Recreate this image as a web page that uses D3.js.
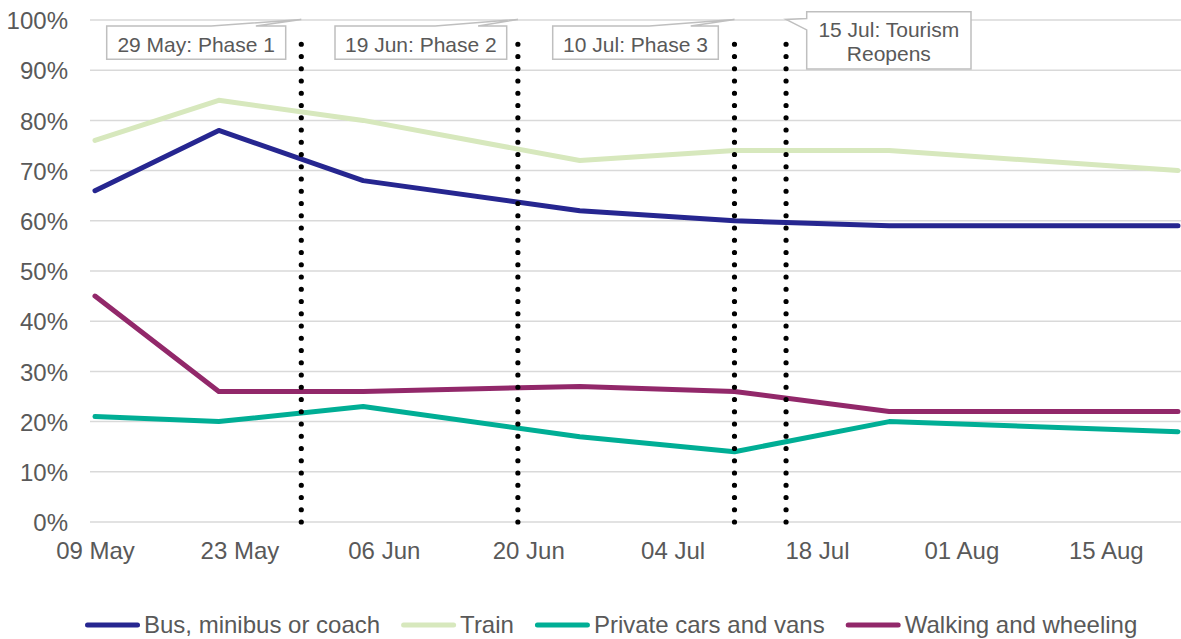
<!DOCTYPE html>
<html>
<head>
<meta charset="utf-8">
<script src="https://cdn.jsdelivr.net/npm/d3@7"></script>
<style>
  html, body { margin: 0; padding: 0; background: #ffffff; }
  svg { display: block; }
  text { font-family: "Liberation Sans", Arial, sans-serif; fill: #595959; }
</style>
</head>
<body>
<svg id="chart" width="1181" height="639"></svg>
<script>
// Survey dates (2020) and share of respondents by mode
const surveyDates = ["2020-05-09", "2020-05-21", "2020-06-04", "2020-06-25", "2020-07-10", "2020-07-25", "2020-08-22"];
const busValues     = [0.66, 0.78, 0.68, 0.62, 0.60, 0.59, 0.59];
const trainValues   = [0.76, 0.84, 0.80, 0.72, 0.74, 0.74, 0.70];
const carValues     = [0.21, 0.20, 0.23, 0.17, 0.14, 0.20, 0.18];
const walkingValues = [0.45, 0.26, 0.26, 0.27, 0.26, 0.22, 0.22];

const seriesNames  = ["Bus, minibus or coach", "Train", "Private cars and vans", "Walking and wheeling"];
const seriesColors = ["#262690", "#d7e8bd", "#00ae95", "#92286a"];

// Axis ticks
const xTickDates = ["2020-05-09", "2020-05-23", "2020-06-06", "2020-06-20", "2020-07-04", "2020-07-18", "2020-08-01", "2020-08-15"];
const yTickValues = [0, 0.1, 0.2, 0.3, 0.4, 0.5, 0.6, 0.7, 0.8, 0.9, 1.0];

// Easing of lockdown milestones
const eventDates  = ["2020-05-29", "2020-06-19", "2020-07-10", "2020-07-15"];
const eventLabels = [["29 May: Phase 1"], ["19 Jun: Phase 2"], ["10 Jul: Phase 3"], ["15 Jul: Tourism", "Reopens"]];

const parse = d3.utcParse("%Y-%m-%d");
const fmtDate = d3.utcFormat("%d %b");
const fmtPct = d3.format(".0%");

const svg = d3.select("#chart");

const x = d3.scaleUtc()
  .domain([parse(surveyDates[0]), parse(surveyDates[surveyDates.length - 1])])
  .range([95, 1178]);
const y = d3.scaleLinear().domain([0, 1]).range([522, 20]);

const plotLeft = 90, plotRight = 1181;
const axisFont = "24px";

// Horizontal gridlines
svg.append("g")
  .selectAll("line")
  .data(yTickValues)
  .join("line")
  .attr("x1", plotLeft).attr("x2", plotRight)
  .attr("y1", d => y(d)).attr("y2", d => y(d))
  .attr("stroke", "#d9d9d9")
  .attr("stroke-width", 1.5);

// Y axis labels
const yAxis = d3.axisLeft(y).tickValues(yTickValues).tickFormat(fmtPct).tickSize(0).tickPadding(0);
svg.append("g")
  .attr("transform", "translate(68,0)")
  .call(yAxis)
  .call(g => g.select(".domain").remove())
  .call(g => g.selectAll("text")
    .attr("x", 0).attr("dy", "0.36em")
    .style("font-family", '"Liberation Sans", Arial, sans-serif')
    .style("font-size", axisFont).style("fill", "#595959"));

// X axis labels
const xAxis = d3.axisBottom(x).tickValues(xTickDates.map(parse)).tickFormat(fmtDate).tickSize(0).tickPadding(0);
svg.append("g")
  .attr("transform", "translate(0,522)")
  .call(xAxis)
  .call(g => g.select(".domain").remove())
  .call(g => g.selectAll("text")
    .attr("y", 37).attr("dy", 0)
    .style("font-family", '"Liberation Sans", Arial, sans-serif')
    .style("font-size", axisFont).style("fill", "#595959"));

// Series lines
const seriesValues = [busValues, trainValues, carValues, walkingValues];
const series = seriesValues.map((vals, i) => ({
  name: seriesNames[i],
  color: seriesColors[i],
  points: vals.map((v, j) => ({ date: parse(surveyDates[j]), value: v }))
}));

const line = d3.line().x(d => x(d.date)).y(d => y(d.value));

svg.append("g")
  .selectAll("path")
  .data(series)
  .join("path")
  .attr("d", d => line(d.points))
  .attr("fill", "none")
  .attr("stroke", d => d.color)
  .attr("stroke-width", 5)
  .attr("stroke-linejoin", "round")
  .attr("stroke-linecap", "round");

// Dotted milestone markers
const markerTop = 0.976;
svg.append("g")
  .selectAll("line")
  .data(eventDates)
  .join("line")
  .attr("x1", d => x(parse(d))).attr("x2", d => x(parse(d)))
  .attr("y1", y(0)).attr("y2", y(markerTop))
  .attr("stroke", "#000000")
  .attr("stroke-width", 5.2)
  .attr("stroke-linecap", "round")
  .attr("stroke-dasharray", "0 12.25");

// Callout boxes
const calloutBoxes = [
  { left: 106.7, top: 26, right: 285.7, bottom: 59.3, side: "top" },
  { left: 335, top: 26, right: 506.7, bottom: 59.3, side: "top" },
  { left: 552.7, top: 26, right: 718.3, bottom: 59.3, side: "top" },
  { left: 806.7, top: 11.7, right: 971, bottom: 69, side: "left" }
];

function calloutPath(b, tipX, tipY) {
  const w = b.right - b.left, h = b.bottom - b.top;
  if (b.side === "top") {
    const a = b.left + w * 7 / 12, c = b.left + w * 10 / 12;
    return `M${b.left},${b.top}L${a},${b.top}L${tipX},${tipY}L${c},${b.top}L${b.right},${b.top}L${b.right},${b.bottom}L${b.left},${b.bottom}Z`;
  }
  const a = b.top + h * 1.45 / 12, c = b.top + h * 3.8 / 12;
  return `M${b.left},${b.top}L${b.right},${b.top}L${b.right},${b.bottom}L${b.left},${b.bottom}L${b.left},${c}L${tipX},${tipY}L${b.left},${a}Z`;
}

const callouts = svg.append("g")
  .selectAll("g")
  .data(eventDates.map((d, i) => ({ date: parse(d), lines: eventLabels[i], box: calloutBoxes[i] })))
  .join("g");

callouts.append("path")
  .attr("d", d => calloutPath(d.box, x(d.date), y(1) - 0.5))
  .attr("fill", "#ffffff")
  .attr("stroke", "#bfbfbf")
  .attr("stroke-width", 1.5)
  .attr("stroke-linejoin", "miter");

callouts.each(function(d) {
  const g = d3.select(this);
  const cx = (d.box.left + d.box.right) / 2;
  const baselines = d.lines.length === 1 ? [51.5] : [36.5, 61];
  d.lines.forEach((t, k) => {
    g.append("text")
      .attr("x", cx).attr("y", baselines[k])
      .attr("text-anchor", "middle")
      .style("font-size", "21px")
      .text(t);
  });
});

// Legend
const legend = svg.append("g");
let lx = 85;
series.forEach(s => {
  legend.append("line")
    .attr("x1", lx + 2.5).attr("x2", lx + 52.5)
    .attr("y1", 625).attr("y2", 625)
    .attr("stroke", s.color)
    .attr("stroke-width", 5)
    .attr("stroke-linecap", "round");
  const t = legend.append("text")
    .attr("x", lx + 59).attr("y", 632.5)
    .style("font-size", axisFont)
    .text(s.name);
  lx += 59 + t.node().getComputedTextLength() + 21;
});
</script>
</body>
</html>
